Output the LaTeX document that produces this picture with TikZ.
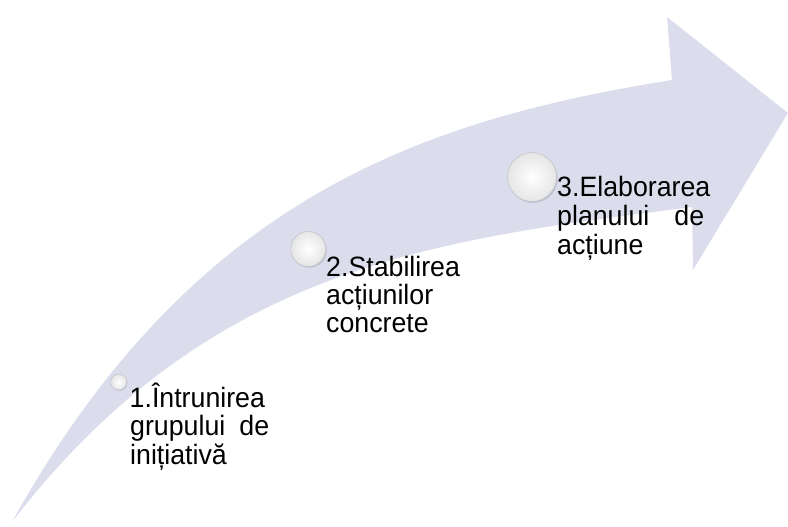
\documentclass[tikz,border=0pt]{standalone}
\usepackage{fontspec}
\setmainfont[FakeStretch=0.955]{Liberation Sans}
\definecolor{arrowfill}{RGB}{220,221,236}
\definecolor{ballrim}{RGB}{196,196,206}
\definecolor{ballshadow}{RGB}{170,170,182}
\begin{document}
\begin{tikzpicture}[x=1pt,y=-1pt,
  lbl/.style={anchor=base west, inner sep=0pt, font=\fontsize{28}{28.5}\selectfont, text=black},
  ballshade/.style={circle, inner sep=0pt, minimum size=#1, fill=ballshadow, opacity=0.55},
  ball/.style={circle, inner sep=0pt, minimum size=#1, draw=ballrim, line width=0.6pt, inner color=white, outer color=gray!20}]
\useasboundingbox (0,0) rectangle (788,527);
% curved arrow
\fill[arrowfill] (12,522) .. controls (212,262) and (442,239.5) .. (692,207)
  -- (693,270) -- (788,113) -- (667,17) -- (672,80)
  .. controls (422,120) and (192,198) .. (12,522) -- cycle;
% spheres
\node[ballshade=16pt] (s1) at (119.4,382.8) {};
\node[ball=16pt] (c1) at (118.7,382) {};
\node[ballshade=35pt] (s2) at (309.3,250.2) {};
\node[ball=35pt] (c2) at (308.3,249) {};
\node[ballshade=49pt] (s3) at (533.2,178.4) {};
\node[ball=49pt] (c3) at (532,177) {};
% labels
\node[lbl] (l1a) at (129.5,407) {1.Întrunirea};
\node[lbl] (l1b) at (130,435.5) {\hbox to 139pt{grupului\hfill de}};
\node[lbl] (l1c) at (130,464) {inițiativă};
\node[lbl] (l2a) at (326,276) {2.Stabilirea};
\node[lbl] (l2b) at (326,304) {acțiunilor};
\node[lbl] (l2c) at (326,332) {concrete};
\node[lbl] (l3a) at (557,196.5) {3.Elaborarea};
\node[lbl] (l3b) at (557,225.5) {\hbox to 147pt{planului\hfill de}};
\node[lbl] (l3c) at (557,254.5) {acțiune};
\end{tikzpicture}
\end{document}
